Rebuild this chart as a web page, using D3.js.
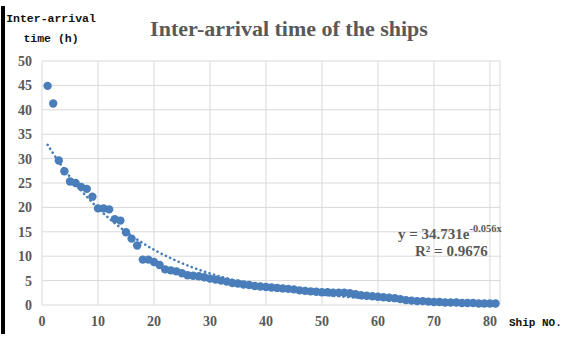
<!DOCTYPE html>
<html>
<head>
<meta charset="utf-8">
<script src="https://cdn.jsdelivr.net/npm/d3@7"></script>
<style>
body { margin: 0; background: #fff; }
svg { display: block; }
</style>
</head>
<body>
<svg id="svg1" width="567" height="338"></svg>
<script>
// inter-arrival time (h) for ships 1..81
var shipNo = d3.range(1, 82);
var hours = [44.9,41.3,29.6,27.4,25.3,25.0,24.2,23.8,22.2,19.8,
             19.8,19.6,17.6,17.3,14.9,13.6,12.2,9.3,9.3,8.8,
             8.2,7.3,7.1,6.9,6.5,6.1,6.0,5.9,5.7,5.4,
             5.2,5.0,4.8,4.5,4.4,4.2,4.1,3.9,3.8,3.7,
             3.6,3.5,3.4,3.3,3.2,3.0,2.9,2.8,2.7,2.6,
             2.6,2.5,2.5,2.5,2.4,2.2,2.0,1.9,1.8,1.7,
             1.6,1.5,1.4,1.2,1.0,0.9,0.8,0.8,0.7,0.6,
             0.6,0.5,0.5,0.5,0.4,0.4,0.4,0.3,0.3,0.3,0.3];
var xTicks = [0,10,20,30,40,50,60,70,80];
var yTicks = [0,5,10,15,20,25,30,35,40,45,50];
var fitA = 34.731, fitB = -0.056;

var svg = d3.select('#svg1');
var x = d3.scaleLinear().domain([0, 81.8]).range([42, 500]);
var y = d3.scaleLinear().domain([0, 50]).range([305, 61]);

// black bar on the left edge
svg.append("rect").attr("x",1).attr("y",6).attr("width",4).attr("height",328).attr("fill","#000");

// grid
svg.append("g").selectAll("line").data(yTicks).enter().append("line")
    .attr("x1",x(0)).attr("x2",x(81.8))
    .attr("y1",function(d){return y(d);}).attr("y2",function(d){return y(d);})
    .style("stroke","#d9d9d9").style("stroke-width",1);
svg.append("g").selectAll("line").data(xTicks.concat([81.8])).enter().append("line")
    .attr("y1",y(0)).attr("y2",y(50))
    .attr("x1",function(d){return x(d);}).attr("x2",function(d){return x(d);})
    .style("stroke","#d9d9d9").style("stroke-width",1);

// tick labels
svg.append("g").selectAll("text").data(yTicks).enter().append("text")
    .attr("x",32).attr("y",function(d){return y(d)+5;})
    .attr("text-anchor","end")
    .style("font-family","Liberation Serif").style("font-weight","bold")
    .style("font-size","14px").style("fill","#595959")
    .text(function(d){return d;});
svg.append("g").selectAll("text").data(xTicks).enter().append("text")
    .attr("x",function(d){return x(d);}).attr("y",326)
    .attr("text-anchor","middle")
    .style("font-family","Liberation Serif").style("font-weight","bold")
    .style("font-size","14px").style("fill","#595959")
    .text(function(d){return d;});

// trend line (dotted)
var line = d3.line().x(function(d){return x(d);}).y(function(d){return y(fitA*Math.exp(fitB*d));});
svg.append("path")
    .attr("d", line(d3.range(1, 81.05, 0.5)))
    .style("fill","none").style("stroke","#4a7ebb").style("stroke-width",2.6)
    .style("stroke-linecap","round").style("stroke-dasharray","0.1,4.6");

// points
svg.append("g").selectAll("circle").data(hours).enter().append("circle")
    .attr("cx",function(d,i){return x(shipNo[i]);})
    .attr("cy",function(d){return y(d);})
    .attr("r",4.2)
    .attr("fill","#4a7ebb");

// titles
svg.append("text").attr("x",289).attr("y",36).attr("text-anchor","middle")
    .style("font-family","Liberation Serif").style("font-weight","bold")
    .style("font-size","22px").style("fill","#595959")
    .text("Inter-arrival time of the ships");

var ytitle = svg.append("text").attr("text-anchor","middle")
    .style("font-family","Liberation Mono").style("font-weight","bold")
    .style("font-size","11.5px").style("fill","#111");
ytitle.append("tspan").attr("x",51).attr("y",22).text("Inter-arrival");
ytitle.append("tspan").attr("x",51).attr("y",42).text("time (h)");

svg.append("text").attr("x",509).attr("y",326)
    .style("font-family","Liberation Mono").style("font-weight","bold")
    .style("font-size","11px").style("fill","#111")
    .text("Ship NO.");

// equation
var eq = svg.append("text").attr("x",398).attr("y",239)
    .style("font-family","Liberation Serif").style("font-weight","bold")
    .style("font-size","15px").style("fill","#595959");
eq.append("tspan").text("y = " + fitA + "e");
eq.append("tspan").attr("dy",-7).style("font-size","10.5px").text(fitB + "x");

svg.append("text").attr("x",415).attr("y",256)
    .style("font-family","Liberation Serif").style("font-weight","bold")
    .style("font-size","15px").style("fill","#595959")
    .text("R\u00b2 = 0.9676");
</script>
</body>
</html>
